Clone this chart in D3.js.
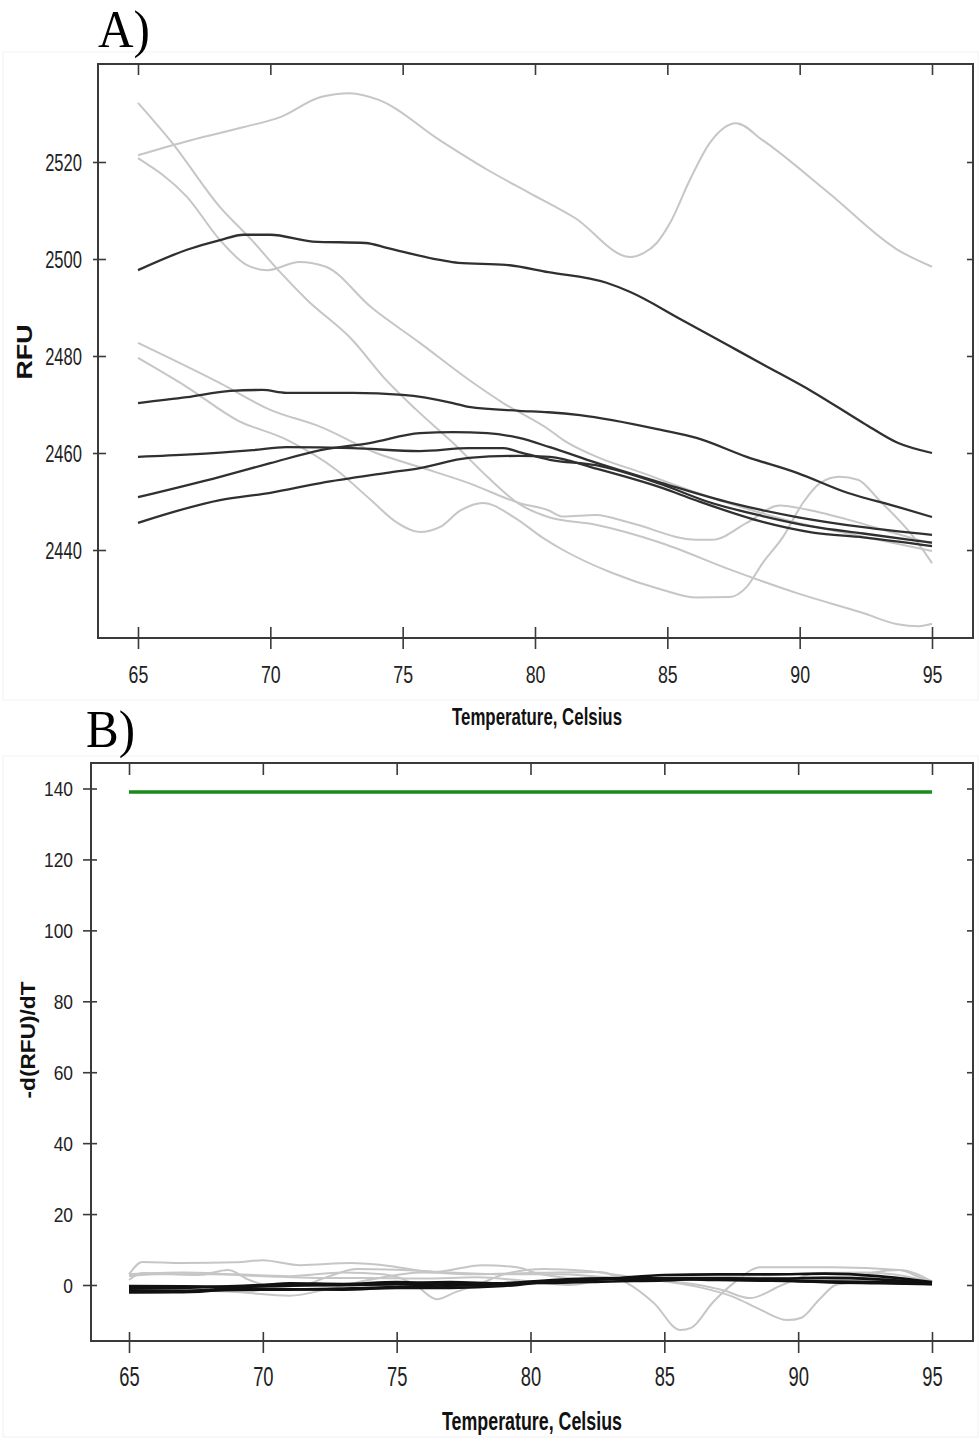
<!DOCTYPE html>
<html><head><meta charset="utf-8">
<script src="https://cdn.jsdelivr.net/npm/d3@7/dist/d3.min.js"></script>
<style>body{margin:0;background:#fff}svg{display:block}</style>
</head><body>
<svg id="c" width="979" height="1438"></svg>
<script>
// ---------- data ----------
const xTicks = [65, 70, 75, 80, 85, 90, 95];
const yTicksA = [2440, 2460, 2480, 2500, 2520];
const yTicksB = [0, 20, 40, 60, 80, 100, 120, 140];
const xLabel = "Temperature, Celsius";
const yLabelA = "RFU";
const yLabelB = "-d(RFU)/dT";

// Panel A: melt curves (temperature, RFU)
const grayA1 = [[65,2521.4],[67,2524.5],[69,2527.2],[70.4,2529.3],[71.9,2533.4],[73,2534.2],[74.1,2532.8],[76.4,2524.5],[78.2,2518.4],[79.8,2513.6],[81.5,2508.5],[83.6,2500.4],[84.1,2501.2],[84.6,2503.3],[85.1,2507.4],[85.85,2516.3],[86.6,2523.9],[87.6,2528],[88.6,2524.5],[91.1,2513.6],[93.7,2501.9],[95,2498.4]];
const grayA2 = [[65,2532.2],[66.3,2523.9],[68.1,2510.7],[69.3,2503.9],[70.3,2497.7],[71.4,2491.5],[73.1,2483.3],[74.3,2475.5],[75.5,2469],[76.9,2462.1],[78.2,2455.1],[79.4,2449.5],[80.5,2446.8],[82.3,2445.2],[84.8,2441.4],[87.4,2435.9],[89.9,2431.1],[92.4,2427],[93.7,2424.7],[94.5,2424.3],[95,2424.8]];
const grayA3 = [[65,2520.8],[66.85,2512.8],[68.1,2503.9],[69.1,2498.8],[69.9,2497.7],[71.1,2499.4],[72.1,2498.4],[73.8,2490.1],[75.65,2482.7],[77.5,2475.1],[78.8,2470.3],[80.56,2464.7],[81.06,2462.7],[82.34,2459.2],[84,2456],[86,2452],[88,2448.5],[90,2445.5],[92,2443.2],[95,2439.8]];
const grayA4 = [[65,2482.7],[68.1,2474.4],[70,2468.9],[71.9,2465.4],[74,2460],[75.65,2457.1],[77.5,2453.8],[79.4,2449.7],[80.5,2448.2],[81.06,2446.9],[82.3,2447.2],[83.6,2445.6],[86.1,2442.1],[86.7,2442.1],[88,2445.6],[89.25,2449.2],[90.3,2448.3],[92,2446],[93.5,2443.6],[95,2441.3]];
const grayA5 = [[65,2479.6],[66.85,2473.6],[68.74,2466.8],[70.63,2462.7],[72.5,2456.5],[73.8,2450.3],[74.8,2445.6],[75.65,2443.7],[76.4,2444.7],[77.2,2448.2],[78.03,2449.7],[79.2,2446.8],[80.3,2442.5],[81.06,2440],[82.9,2435.3],[84.8,2431.8],[86.1,2430.2],[87.36,2430.3],[88,2432.4],[88.6,2437.3],[89.37,2442.7],[90.12,2449.7],[90.77,2453.8],[91.5,2455.1],[92.2,2454.5],[93,2450.3],[94.3,2442.7],[95,2437.3]];
const darkA1 = [[65,2497.7],[66.85,2501.9],[68.1,2503.9],[69,2505],[70,2505],[71.6,2503.6],[73.6,2503.3],[74.4,2502.3],[76.4,2499.8],[77.1,2499.2],[78.9,2498.8],[80.5,2497.3],[82.7,2495.1],[83.6,2493.2],[85.5,2487.6],[87.4,2481.9],[88.6,2478.3],[90.5,2472.6],[92.4,2466.2],[93.7,2462.1],[95,2460]];
const darkA2 = [[65,2470.3],[66.85,2471.5],[68.5,2472.8],[69.7,2473],[70.6,2472.4],[73.1,2472.4],[75,2472],[76.9,2470.3],[77.5,2469.5],[79.4,2468.7],[80.5,2468.4],[81.7,2467.8],[84.8,2464.7],[86.1,2463.1],[88,2459.2],[89.9,2455.9],[91.8,2451.8],[93.7,2448.9],[95,2446.8]];
const darkA3 = [[65,2459.2],[67,2459.7],[69.34,2460.6],[70.6,2461.2],[73.1,2461],[75.65,2460.4],[77.5,2461],[78.8,2461],[79.4,2460.2],[80.56,2458.6],[82.3,2457.5],[84.8,2453.5],[86.5,2450],[88.6,2447],[90.5,2444.8],[92.4,2443.4],[95,2441.5]];
const darkA4 = [[65,2450.9],[68.1,2455.1],[70,2457.9],[71.9,2460.6],[73.8,2462.1],[75.65,2464.1],[76.9,2464.3],[78.2,2464.1],[79.4,2463.1],[80.56,2461.2],[82.3,2458],[84.8,2453.8],[87.4,2449.7],[89.9,2446.8],[92.4,2444.7],[95,2443.1]];
const darkA5 = [[65,2445.6],[68.1,2450.3],[70,2451.8],[71.9,2453.8],[74.4,2455.9],[75.65,2456.9],[77.5,2459],[79.4,2459.4],[80.56,2459.2],[82.3,2456.8],[84.8,2452.8],[86.1,2450.2],[88.6,2445.8],[90.5,2443.6],[92.4,2442.6],[95,2440.8]];

// Panel B: derivative curves (temperature, -d(RFU)/dT)
const threshold = [[65,139],[95,139]];
const grayB1 = [[65,-1.5],[67,-1.5],[69,-2],[71,-3],[72.5,-1],[74,1.5],[76,3.5],[78,3],[80,3.4],[82.6,3.7],[83.6,0.6],[84.6,-5],[85.6,-12.7],[86,-12.1],[86.8,-5],[87.6,0.6],[88.6,5],[91.3,5],[93.8,4.2],[94.5,2.3],[95,0.6]];
const grayB2 = [[65,3],[65.5,6.5],[67,6.2],[69,6.4],[70,7],[71.4,5.6],[73.3,6.2],[74.5,5.6],[76.4,3.7],[78.2,5.6],[79.5,5],[80.3,3.2],[82.6,1.5],[84.5,2],[87,2.3],[89.5,2],[92,2.2],[94,1.8],[95,0.8]];
const grayB3 = [[65,1.4],[65.5,3.4],[67.6,2.8],[68.7,4.2],[69.5,1.4],[70.5,-0.6],[71.5,0],[72.5,2.5],[73.5,4.5],[75,4.3],[77,3.5],[79,3],[81,3],[83,2.2],[85,2],[88,1.8],[91,1.5],[95,0.8]];
const grayB4 = [[65,2.5],[66,3],[68,3],[70,2.5],[72,2],[74,2],[76,1.8],[78,2.2],[80,1],[81.5,0],[82.5,1],[84,1.5],[86.3,0],[87.2,-1.5],[88.2,-3.7],[89.4,0],[90.7,3.4],[92.5,3.5],[94,2.5],[95,0.8]];
const grayB5 = [[65,3],[67,3.5],[69,3],[71,2.5],[73,3.5],[74.5,3],[75.7,0],[76.5,-4],[77.2,-2],[78,0],[79,3],[80.5,4.5],[82,4],[84,2],[86.3,-0.6],[87.6,-3.4],[88.6,-7],[89.6,-9.9],[90.1,-9.3],[90.8,-4],[91.4,0],[91.9,0.6],[92.8,3.5],[93.8,4.2],[95,1]];
const darkB1 = [[65,-2],[67,-2],[69,-1],[71,0.5],[73,0.3],[75,0.8],[77,0.5],[79,0.5],[81,1],[83,1.8],[85,2.8],[87,3],[89,3],[91,3.2],[93,2.5],[95,0.8]];
const darkB2 = [[65,-0.8],[67,-0.8],[69,-0.3],[71,0.2],[73,0],[75,0.3],[77,0.8],[79,0.5],[81,0.6],[83,1],[85,1.3],[87,1.9],[89,1.8],[91,2],[93,1.6],[95,0.6]];
const darkB3 = [[65,-0.3],[67,-0.4],[69,-0.5],[71,-0.2],[73,0],[75,0.2],[77,-0.2],[79,0.2],[81,1.2],[83,1.8],[85,1.8],[87,1.6],[89,1.3],[91,1],[93,0.8],[95,0.4]];
const darkB4 = [[65,-1.5],[67,-1.6],[69,-1.4],[71,-1.3],[73,-1],[75,-0.6],[77,0],[79,0.5],[81,1.5],[83,1.9],[85,1.8],[87,1.4],[89,1.2],[91,0.9],[93,0.7],[95,0.3]];
const darkB5 = [[65,-2],[67,-1.8],[69,-1],[71,-1.2],[73,-1.3],[75,-0.8],[77,-0.8],[79,-0.3],[81,1.2],[83,1.7],[85,1.8],[87,1.9],[89,1.5],[91,0.8],[93,0.5],[95,0.2]];

// ---------- drawing ----------
const svg = d3.select("#c");
const SANS = "'Liberation Sans', Arial, sans-serif";
const SERIF = "'Liberation Serif', 'Times New Roman', serif";
const FRAME = "#3a3a3a";

function drawPanel(o) {
  const x = d3.scaleLinear().domain(o.xDom).range([o.left, o.right]);
  const y = d3.scaleLinear().domain(o.yDom).range([o.bottom, o.top]);
  const g = svg.append("g");

  // faint screenshot border
  g.append("rect").attr("x", 3).attr("y", o.imgTop).attr("width", 975).attr("height", o.imgH)
    .attr("fill", "none").attr("stroke", "#f1f1f1").attr("stroke-width", 1);

  const line = d3.line().x(d => x(d[0])).y(d => y(d[1])).curve(d3.curveMonotoneX);
  o.gray.forEach(s => g.append("path").attr("d", line(s)).attr("fill", "none")
    .attr("stroke", "#c6c6c6").attr("stroke-width", 2));
  o.dark.forEach(s => g.append("path").attr("d", line(s)).attr("fill", "none")
    .attr("stroke", o.darkColor).attr("stroke-width", o.darkWidth));
  (o.extra || []).forEach(e => g.append("path").attr("d", line(e.data)).attr("fill", "none")
    .attr("stroke", e.color).attr("stroke-width", e.width));

  // frame
  g.append("rect").attr("x", o.left).attr("y", o.top).attr("width", o.right - o.left)
    .attr("height", o.bottom - o.top).attr("fill", "none").attr("stroke", FRAME).attr("stroke-width", 2);

  const fmt = d3.format("d");

  // bottom axis
  const bx = g.append("g").attr("transform", `translate(0,${o.bottom})`)
    .call(d3.axisBottom(x).tickValues(xTicks).tickFormat(fmt).tickSizeInner(o.bTickOut).tickSizeOuter(0));
  bx.select(".domain").remove();
  bx.selectAll(".tick line").attr("y1", -o.bTickIn).attr("stroke", FRAME).attr("stroke-width", 1.6);
  bx.selectAll(".tick text").attr("x", null).attr("y", null).attr("dy", null)
    .attr("transform", `translate(0,${o.xLabBase}) scale(${o.xLabSx},1)`)
    .attr("text-anchor", "middle").style("font-family", SANS).style("font-size", o.xLabSize + "px").attr("fill", "#222");

  // top axis (inside ticks, no labels)
  const tx = g.append("g").attr("transform", `translate(0,${o.top})`)
    .call(d3.axisTop(x).tickValues(xTicks).tickSizeInner(-o.topTick).tickSizeOuter(0).tickFormat(""));
  tx.select(".domain").remove();
  tx.selectAll(".tick line").attr("stroke", FRAME).attr("stroke-width", 1.6);

  // left axis
  const ly = g.append("g").attr("transform", `translate(${o.left},0)`)
    .call(d3.axisLeft(y).tickValues(o.yTicks).tickFormat(fmt).tickSizeInner(o.lTickOut).tickSizeOuter(0));
  ly.select(".domain").remove();
  ly.selectAll(".tick line").attr("x1", o.lTickIn).attr("stroke", FRAME).attr("stroke-width", 1.6);
  ly.selectAll(".tick text").attr("x", null).attr("y", null).attr("dy", null)
    .attr("transform", `translate(${o.yLabRight},${o.yLabDy}) scale(${o.yLabSx},1)`)
    .attr("text-anchor", "end").style("font-family", SANS).style("font-size", o.yLabSize + "px").attr("fill", "#222");

  // right axis (inside ticks)
  const ry = g.append("g").attr("transform", `translate(${o.right},0)`)
    .call(d3.axisRight(y).tickValues(o.yTicks).tickSizeInner(-6).tickSizeOuter(0).tickFormat(""));
  ry.select(".domain").remove();
  ry.selectAll(".tick line").attr("stroke", FRAME).attr("stroke-width", 1.6);

  // axis titles
  g.append("text").attr("x", o.xTitleX).attr("y", o.xTitleY).attr("text-anchor", "middle")
    .attr("textLength", o.xTitleLen).attr("lengthAdjust", "spacingAndGlyphs")
    .style("font-family", SANS).style("font-weight", "bold").style("font-size", o.xTitleSize + "px")
    .attr("fill", "#111").text(xLabel);
  g.append("text").attr("transform", `translate(${o.yTitleX},${o.yTitleY}) rotate(-90)`)
    .attr("text-anchor", "middle").attr("textLength", o.yTitleLen).attr("lengthAdjust", "spacingAndGlyphs")
    .style("font-family", SANS).style("font-weight", "bold").style("font-size", o.yTitleSize + "px")
    .attr("fill", "#111").text(o.yTitle);

  // panel letter
  g.append("text").attr("x", o.letterX).attr("y", o.letterY).attr("textLength", o.letterLen)
    .attr("lengthAdjust", "spacingAndGlyphs").style("font-family", SERIF).style("font-size", "52px")
    .attr("fill", "#000").text(o.letter);
}

drawPanel({
  left: 98, right: 973, top: 64, bottom: 638,
  xDom: [63.489, 96.549], yDom: [2421.856, 2540.206], yTicks: yTicksA,
  gray: [grayA1, grayA2, grayA3, grayA4, grayA5],
  dark: [darkA1, darkA2, darkA3, darkA4, darkA5], darkColor: "#303030", darkWidth: 2.3,
  bTickOut: 11, bTickIn: 11, topTick: 11, lTickOut: 5, lTickIn: 8,
  xLabBase: 45, xLabSx: 0.74, xLabSize: 24,
  yLabRight: -16, yLabDy: 8.5, yLabSx: 0.69, yLabSize: 24,
  xTitleX: 537, xTitleY: 725, xTitleLen: 170, xTitleSize: 24,
  yTitle: yLabelA, yTitleX: 32, yTitleY: 352, yTitleLen: 55, yTitleSize: 22,
  letter: "A)", letterX: 98, letterY: 47, letterLen: 52,
  imgTop: 52, imgH: 648
});

drawPanel({
  left: 91, right: 973, top: 763, bottom: 1341,
  xDom: [63.580, 96.532], yDom: [-15.79, 147.19], yTicks: yTicksB,
  gray: [grayB1, grayB2, grayB3, grayB4, grayB5],
  dark: [darkB1, darkB2, darkB3, darkB4, darkB5], darkColor: "#111", darkWidth: 2.6,
  extra: [{data: threshold, color: "#1b8a1b", width: 3.5}],
  bTickOut: 12, bTickIn: 9, topTick: 12, lTickOut: 8, lTickIn: 6,
  xLabBase: 45, xLabSx: 0.68, xLabSize: 27,
  yLabRight: -18, yLabDy: 7, yLabSx: 0.87, yLabSize: 20,
  xTitleX: 532, xTitleY: 1430, xTitleLen: 180, xTitleSize: 25,
  yTitle: yLabelB, yTitleX: 35, yTitleY: 1040, yTitleLen: 117, yTitleSize: 20,
  letter: "B)", letterX: 86, letterY: 747, letterLen: 49,
  imgTop: 756, imgH: 681
});
</script>
</body></html>
